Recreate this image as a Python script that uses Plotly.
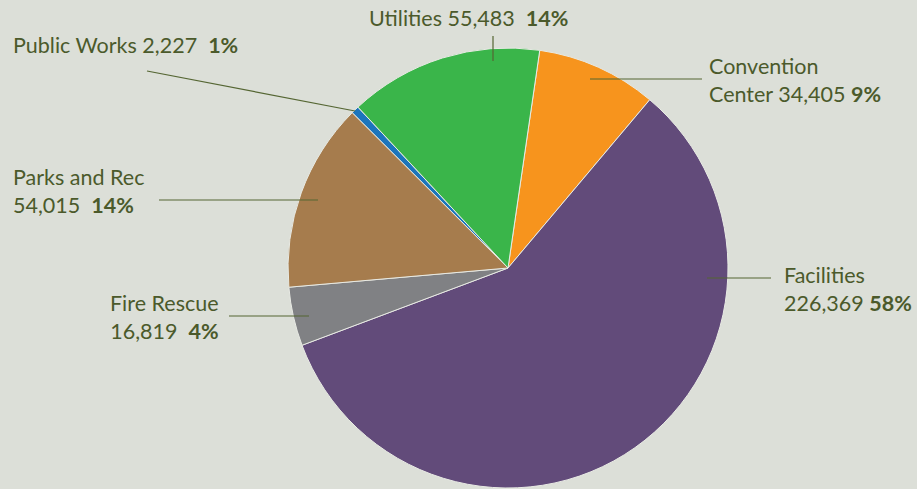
import plotly.graph_objects as go

categories = ["Convention Center", "Facilities", "Fire Rescue", "Parks and Rec", "Public Works", "Utilities"]
values = [34405, 226369, 16819, 54015, 2227, 55483]
pct_labels = ["9%", "58%", "4%", "14%", "1%", "14%"]
colors = ["#f7941d", "#624b7a", "#808184", "#a67c4d", "#1c75bc", "#3ab54a"]

W, H = 917, 489
BG = "#dcdfd8"
TXT = "#4b5a2b"
LINE = "#556633"

def px(x):
    return x / W

def py(y):
    return 1 - y / H

fig = go.Figure(go.Pie(
    labels=categories, values=values, sort=False, direction="clockwise",
    rotation=8.3, textinfo="none", hoverinfo="label+value+percent",
    marker=dict(colors=colors, line=dict(color="#e8eae4", width=1)),
    domain=dict(x=[px(288), px(728)], y=[py(488), py(48)]),
    showlegend=False,
))

FONT = dict(family="Lato, Open Sans, sans-serif", size=21.5, color=TXT)

def fmt(v):
    return f"{v:,}"

lab = {c: (fmt(v), p) for c, v, p in zip(categories, values, pct_labels)}

annots = [
    (f"Public Works {lab['Public Works'][0]}  <b>{lab['Public Works'][1]}</b>", 11, 45, "left"),
    (f"Utilities {lab['Utilities'][0]}  <b>{lab['Utilities'][1]}</b>", 367, 18, "left"),
    (f"Convention<br>Center {lab['Convention Center'][0]} <b>{lab['Convention Center'][1]}</b>", 707, 80, "left"),
    (f"Parks and Rec<br>{lab['Parks and Rec'][0]}  <b>{lab['Parks and Rec'][1]}</b>", 11, 191, "left"),
    (f"Fire Rescue<br>{lab['Fire Rescue'][0]}  <b>{lab['Fire Rescue'][1]}</b>", 221, 317, "right"),
    (f"Facilities<br>{lab['Facilities'][0]} <b>{lab['Facilities'][1]}</b>", 782, 289, "left"),
]

annotations = []
for text, x, y, align in annots:
    annotations.append(dict(
        text=text, x=px(x), y=py(y), xref="paper", yref="paper",
        xanchor=align, yanchor="middle", align=align, showarrow=False,
        font=FONT,
    ))

leaders = [
    (147, 71, 355, 111),
    (493, 36, 493, 61),
    (590, 79, 702, 79),
    (159, 200, 318, 200),
    (229, 316, 309, 316),
    (707, 278, 771, 278),
]
shapes = [dict(type="line", xref="paper", yref="paper",
               x0=px(a), y0=py(b), x1=px(c), y1=py(d),
               line=dict(color=LINE, width=1.2)) for a, b, c, d in leaders]

fig.update_layout(
    width=W, height=H, margin=dict(l=0, r=0, t=0, b=0),
    paper_bgcolor=BG, plot_bgcolor=BG,
    annotations=annotations, shapes=shapes,
)

fig.write_html(
    "out.html",
    config={"displayModeBar": False},
    post_script=f"document.body.style.margin='0';document.body.style.background='{BG}';document.body.style.overflow='hidden';",
)
